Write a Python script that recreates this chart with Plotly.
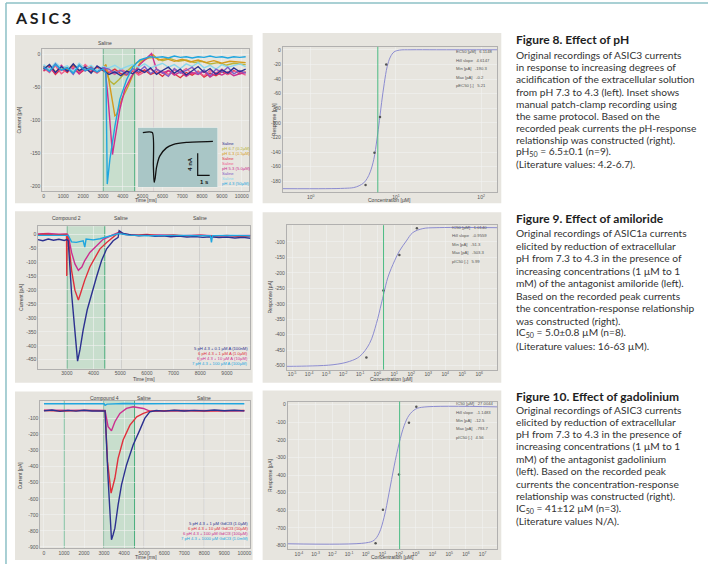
import plotly.graph_objects as go

W, H = 708, 564

# ---------------- DATA ----------------
# Fig 8 left: ASIC3 recordings (time ms, current pA)
a1_saline_navy = [(0,-22),(300,-15),(600,-27),(900,-18),(1200,-25),(1500,-14),(1800,-24),(2100,-19),(2400,-28),(2700,-17),(3000,-23),(3300,-30),(3600,-26),(3900,-32),(4200,-25),(4500,-29),(4800,-22),(5100,-27),(5400,-20),(5700,-30),(6000,-24),(6300,-19),(6600,-28),(6900,-22),(7200,-31),(7500,-24),(7800,-18),(8100,-27),(8400,-21),(8700,-30),(9000,-23),(9300,-28),(9600,-20),(9900,-26),(10200,-22)]
a1_saline_purple = [(0,-18),(300,-26),(600,-14),(900,-24),(1200,-20),(1500,-30),(1800,-16),(2100,-25),(2400,-19),(2700,-27),(3000,-20),(3300,-22),(3600,-28),(3900,-24),(4200,-30),(4500,-21),(4800,-26),(5100,-18),(5400,-29),(5700,-22),(6000,-27),(6300,-33),(6600,-21),(6900,-28),(7200,-24),(7500,-19),(7800,-29),(8100,-23),(8400,-32),(8700,-22),(9000,-27),(9300,-19),(9600,-29),(9900,-24),(10200,-28)]
a1_saline_red = [(0,-25),(300,-18),(600,-30),(900,-21),(1200,-27),(1500,-16),(1800,-29),(2100,-22),(2400,-26),(2700,-19),(3000,-24),(3300,-27),(3600,-22),(3900,-29),(4200,-31),(4500,-25),(4800,-28),(5100,-23),(5400,-30),(5700,-26),(6000,-33),(6300,-24),(6600,-29),(6900,-35),(7200,-27),(7500,-31),(7800,-25),(8100,-34),(8400,-28),(8700,-32),(9000,-26),(9300,-30),(9600,-24),(9900,-29),(10200,-26)]
a1_saline_pink = [(0,-20),(300,-27),(600,-17),(900,-29),(1200,-22),(1500,-19),(1800,-26),(2100,-15),(2400,-23),(2700,-28),(3000,-21),(3300,-25),(3600,-30),(3900,-22),(4200,-27),(4500,-24),(4800,-31),(5100,-26),(5400,-22),(5700,-28),(6000,-25),(6300,-30),(6600,-23),(6900,-27),(7200,-21),(7500,-29),(7800,-26),(8100,-32),(8400,-24),(8700,-28),(9000,-22),(9300,-30),(9600,-25),(9900,-27),(10200,-31)]
a1_saline_lightcyan = [(0,-15),(300,-22),(600,-12),(900,-20),(1200,-17),(1500,-25),(1800,-13),(2100,-21),(2400,-16),(2700,-24),(3000,-18),(3300,-20),(3600,-16),(3900,-22),(4200,-18),(4500,-15),(4800,-19),(5100,-14),(5400,-20),(5700,-16),(6000,-13),(6300,-19),(6600,-15),(6900,-21),(7200,-14),(7500,-18),(7800,-12),(8100,-20),(8400,-16),(8700,-22),(9000,-15),(9300,-19),(9600,-17),(9900,-14),(10200,-18)]
a1_ph67 = [(0,-17),(300,-24),(600,-14),(900,-22),(1200,-19),(1500,-27),(1800,-15),(2100,-23),(2400,-18),(2700,-26),(3000,-20),(3150,-25),(3350,-40),(3550,-45),(3800,-38),(4100,-28),(4400,-20),(4700,-12),(5000,-8),(5300,-5),(5600,-4),(6000,-9),(6400,-6),(6800,-10),(7200,-8),(7600,-12),(8000,-10),(8400,-14),(8800,-12),(9200,-16),(9600,-13),(10200,-15)]
a1_ph63 = [(0,-21),(300,-16),(600,-26),(900,-19),(1200,-23),(1500,-15),(1800,-25),(2100,-18),(2400,-22),(2700,-27),(3000,-20),(3150,-15),(3350,-48),(3600,-93),(3690,-91),(3940,-68),(4270,-48),(4520,-30),(4860,-13),(5200,-6),(5520,0),(5800,-8),(6200,-6),(6600,-10),(7000,-7),(7400,-11),(7800,-8),(8200,-12),(8600,-9),(9000,-13),(9400,-10),(10200,-12)]
a1_ph53 = [(0,-24),(300,-19),(600,-28),(900,-16),(1200,-25),(1500,-21),(1800,-29),(2100,-18),(2400,-23),(2700,-26),(3000,-22),(3100,-18),(3260,-68),(3430,-134),(3480,-152),(3600,-129),(3850,-83),(4100,-53),(4440,-33),(4860,-15),(5200,-5),(5450,2),(5700,-22),(6000,-28),(6300,-24),(6600,-31),(6900,-26),(7200,-33),(7500,-27),(7800,-30),(8100,-25),(8400,-34),(8700,-28),(9000,-31),(9300,-26),(9600,-32),(9900,-29),(10200,-27)]
a1_ph43 = [(0,-19),(300,-25),(600,-15),(900,-23),(1200,-20),(1500,-28),(1800,-16),(2100,-24),(2400,-21),(2700,-26),(3000,-22),(3150,-28),(3215,-197),(3350,-159),(3600,-109),(3850,-68),(4190,-38),(4520,-18),(4860,-8),(5370,-3),(5700,-4),(6000,-3),(6300,-5),(6600,-2),(6900,-4),(7200,-3),(7500,-5),(7800,-3),(8100,-4),(8400,-2),(8700,-4),(9000,-3),(9300,-5),(9600,-3),(9900,-4),(10200,-3)]
a1_legend = ["Saline", "pH 6.7 (0.2µM)", "pH 6.3 (0.5µM)", "Saline", "Saline",
             "pH 5.3 (5.0µM)", "Saline", "Saline", "pH 4.3 (50µM)"]
a1_xticks = [0, 1000, 2000, 3000, 4000, 5000, 6000, 7000, 8000, 9000, 10000]
a1_yticks = [0, -50, -100, -150, -200]

# inset: manual patch clamp (s, nA)
inset_trace = [(0.42,0.0),(1.21,0.0),(1.30,-6.0),(1.36,-9.1),(1.45,-8.3),(1.56,-6.4),(1.83,-4.3),(2.39,-2.8),(2.94,-2.2),(4.06,-1.8),(6.27,-1.6)]
inset_scale_nA = 4
inset_scale_s = 1

# Fig 8 right: pH-response (x, pA)
a2_points_x = [4.4, 5.6, 6.5, 7.7]
a2_points_y = [-185, -141, -92, -20]
a2_fit_x = [0.47, 1.5, 2.5, 3.2, 3.7, 4.2, 4.6, 5.0, 5.5, 6.0, 6.4, 6.8, 7.3, 7.9, 8.6, 9.5, 11, 15, 30, 155]
a2_fit_y = [-190, -190, -189.5, -188.5, -186, -182, -176, -167, -150, -122, -97, -72, -46, -23, -10, -3, -0.5, 0, 0, 0]
a2_ec50 = 6.13
a2_stats = ["EC50 [µM]   6.1148", "Hill slope   4.6147", "Min [pA]   -190.3", "Max [pA]   -0.2", "pEC50 [-]   5.21"]
a2_yticks = [0, -20, -40, -60, -80, -100, -120, -140, -160, -180]

# Fig 9 left: amiloride recordings
a3_c01 = [(1914,-20),(2100,-24),(2300,-18),(2500,-22),(2700,-19),(2900,-23),(3000,-20),(3050,-24),(3175,-213),(3300,-355),(3400,-455),(3490,-414),(3610,-343),(3760,-272),(3925,-213),(4110,-154),(4300,-95),(4490,-53),(4735,-24),(4920,-12),(4960,12),(5110,2),(5400,-3),(5700,-6),(6000,-4),(6300,-8),(6600,-6),(6900,-10),(7200,-7),(7500,-11),(7800,-9),(8100,-12),(8400,-10),(8700,-13),(9000,-11),(9300,-14),(9600,-12),(9890,-15)]
a3_c1 = [(1914,-2),(2200,0),(2500,-3),(2800,-1),(2985,-2),(2995,-150),(3005,-8),(3050,-10),(3175,-130),(3300,-201),(3430,-236),(3510,-213),(3670,-165),(3860,-118),(4050,-83),(4240,-53),(4490,-30),(4730,-12),(4950,6),(5100,0),(5500,-4),(6000,-2),(6500,-6),(7000,-3),(7500,-7),(8000,-4),(8500,-8),(9000,-5),(9500,-9),(9890,-7)]
a3_c10 = [(1914,0),(2300,2),(2700,-1),(3000,0),(3050,-5),(3175,-66),(3300,-107),(3430,-130),(3560,-118),(3670,-95),(3860,-66),(4110,-43),(4360,-19),(4610,-8),(4950,6),(5200,-2),(5800,-5),(6500,-3),(7200,-6),(8000,-4),(8800,-7),(9890,-5)]
a3_c100 = [(1914,-5),(2400,-4),(3000,-5),(3050,-5),(3175,-28),(3350,-30),(3610,-24),(3670,-47),(3720,-18),(3990,-21),(4240,-17),(4610,-8),(4950,2),(5300,-4),(6000,-6),(7000,-5),(8380,-6),(8420,-30),(8460,-6),(9200,-5),(9890,-6)]
a3_legend = ["5 pH 4.3 + 0.1 µM A (100nM)", "6 pH 4.3 + 1 µM A (1.0µM)",
             "6 pH 4.3 + 10 µM A (10µM)", "7 pH 4.3 + 100 µM A (100µM)"]
a3_xticks = [3000, 4000, 5000, 6000, 7000, 8000, 9000]
a3_yticks = [0, -50, -100, -150, -200, -250, -300, -350, -400, -450]

# Fig 9 right: amiloride concentration-response
a4_points_x = [0.23, 2.3, 20, 215]
a4_points_y = [-474, -257, -142, -56]
a4_fit_logx = [-5.33, -4.94, -2.60, -1.62, -1.03, -0.45, -0.05, 0.24, 0.38, 0.63, 1.02, 1.31, 1.71, 2.09, 2.68, 3.46, 7.06]
a4_fit_y = [-502, -502, -497, -486, -470, -428, -364, -300, -268, -214, -161, -129, -97, -70, -57, -54, -54]
a4_ic50 = 2.35
a4_stats = ["IC50 [µM]   1.0140", "Hill slope   -0.9559", "Min [pA]   -51.3", "Max [pA]   -503.3", "pIC50 [-]   5.99"]
a4_yticks = [-100, -150, -200, -250, -300, -350, -400, -450, -500]

# Fig 10 left: gadolinium recordings
a5_c1 = [(0,-52),(400,-47),(800,-55),(1200,-49),(1600,-54),(2000,-48),(2400,-53),(2800,-50),(3050,-52),(3200,-472),(3290,-720),(3370,-855),(3450,-824),(3540,-783),(3700,-638),(3870,-513),(4120,-389),(4450,-265),(4780,-172),(5030,-99),(5280,-58),(5600,-50),(6000,-54),(6500,-48),(7000,-53),(7500,-49),(8000,-52),(8500,-47),(9000,-51),(9500,-48),(10000,-52)]
a5_c10 = [(0,-50),(1000,-53),(2000,-49),(3050,-51),(3170,-367),(3350,-565),(3540,-472),(3700,-348),(3950,-234),(4290,-141),(4630,-89),(4960,-68),(5280,-54),(6500,-50),(8000,-53),(10000,-50)]
a5_c100 = [(0,-48),(1500,-51),(3050,-50),(3200,-150),(3370,-176),(3540,-120),(3790,-68),(4120,-37),(4450,-27),(4960,-37),(5280,-54),(7000,-50),(10000,-51)]
a5_c1000 = [(0,-8),(2000,-7),(3000,-8),(3050,-18),(3150,-10),(4000,-6),(5000,-8),(7000,-7),(10000,-8)]
a5_legend = ["5 pH 4.3 + 1 µM GdCl3 (1.0µM)", "6 pH 4.3 + 10 µM GdCl3 (10µM)",
             "6 pH 4.3 + 100 µM GdCl3 (100µM)", "7 pH 4.3 + 1000 µM GdCl3 (1.0mM)"]
a5_xticks = [0, 1000, 2000, 3000, 4000, 5000, 6000, 7000, 8000, 9000, 10000]
a5_yticks = [-100, -200, -300, -400, -500, -600, -700, -800, -900]

# Fig 10 right: gadolinium concentration-response
a6_points_logx = [0.59, 1.03, 1.99, 2.59, 3.03]
a6_points_y = [-787, -597, -397, -103, -13]
a6_fit_logx = [-4.68, 0.0, 0.5, 0.8, 1.1, 1.4, 1.7, 2.0, 2.3, 2.6, 3.0, 3.5, 7.88]
a6_fit_y = [-790, -785, -770, -730, -640, -500, -350, -220, -120, -60, -25, -14, -13]
a6_ic50_log = 2.03
a6_stats = ["IC50 [µM]   27.0044", "Hill slope   -1.1483", "Min [pA]   -12.5", "Max [pA]   -793.7", "pIC50 [-]   4.56"]
a6_yticks = [0, -100, -200, -300, -400, -500, -600, -700, -800]

# --------------- STYLE ----------------
PANEL = "#e7e5df"
GREEN = "#3aa873"
SHADE = "rgba(130,205,165,0.30)"
VLINE = "#b8b8b8"
FITC = "#8c8cd0"
TICKF = dict(family="Liberation Sans, Arial", size=5, color="#555")
NAVY, OLIVE, GOLD = "#2c3190", "#b8b43a", "#d49a1c"
RED, PINK, MAG = "#e0303c", "#ef5f8f", "#cc2f8f"
PURP, LCYAN, CYAN = "#7f5cc4", "#8ad8ec", "#1fa6df"


def px(x):
    return x / W


def py(y):
    return 1 - y / H


def unz(pairs):
    return [p[0] for p in pairs], [p[1] for p in pairs]


fig = go.Figure()

# axis domains in pixels: x0, x1, y0(top), y1(bottom)
dom = {
    1: (42, 250, 49, 192),
    2: (283, 498, 47, 193),
    3: (38, 251, 227, 370),
    4: (287, 498, 226, 371),
    5: (40, 251, 402, 550),
    6: (288, 498, 403, 551),
    7: (138, 218, 128, 188),
}

axis_specs = {
    1: dict(xr=[-80, 10400], yr=[-208, 9], xt=a1_xticks, yt=a1_yticks, logx=False),
    2: dict(xr=[-0.33, 2.19], yr=[-195, 4], xt=[1, 10, 100], yt=a2_yticks, logx=True,
            xtt=["10<sup>0</sup>", "10<sup>1</sup>", "10<sup>2</sup>"]),
    3: dict(xr=[1914, 9890], yr=[-482, 28], xt=a3_xticks, yt=a3_yticks, logx=False),
    4: dict(xr=[-5.33, 7.06], yr=[-513, -46], xt=[10 ** k for k in range(-5, 7)], yt=a4_yticks, logx=True,
            xtt=["10<sup>%d</sup>" % k for k in range(-5, 7)]),
    5: dict(xr=[-200, 10314], yr=[-907, 12], xt=a5_xticks, yt=a5_yticks, logx=False),
    6: dict(xr=[-4.68, 7.88], yr=[-820, 17], xt=[10 ** k for k in range(-4, 8)], yt=a6_yticks, logx=True,
            xtt=["10<sup>%d</sup>" % k for k in range(-4, 8)]),
}

layout_axes = {}
for i, (x0, x1, y0, y1) in dom.items():
    xn = "xaxis" if i == 1 else "xaxis%d" % i
    yn = "yaxis" if i == 1 else "yaxis%d" % i
    xa = dict(domain=[px(x0), px(x1)], anchor="y" if i == 1 else "y%d" % i)
    ya = dict(domain=[py(y1), py(y0)], anchor="x" if i == 1 else "x%d" % i)
    if i == 7:
        xa.update(range=[0, 6.67], visible=False, fixedrange=True)
        ya.update(range=[-10, 0.91], visible=False, fixedrange=True)
    else:
        s = axis_specs[i]
        common = dict(showline=True, mirror=True, linecolor="#9a9a9a", linewidth=0.7,
                      showgrid=True, gridcolor="#f1f1f1", gridwidth=0.6, zeroline=False,
                      ticks="", ticklen=0, ticklabelstandoff=0, tickfont=TICKF, fixedrange=True)
        xa.update(common)
        ya.update(common)
        if s["logx"]:
            xa.update(type="log", range=s["xr"], tickvals=s["xt"], ticktext=s["xtt"])
        else:
            xa.update(range=s["xr"], tickvals=s["xt"], ticktext=[str(v) for v in s["xt"]])
        ya.update(range=s["yr"], tickvals=s["yt"], ticktext=[str(v) for v in s["yt"]])
    layout_axes[xn] = xa
    layout_axes[yn] = ya


def add_line(pairs, color, ax, width=1.3):
    t, v = unz(pairs)
    xr = "x" if ax == 1 else "x%d" % ax
    yr = "y" if ax == 1 else "y%d" % ax
    fig.add_trace(go.Scatter(x=t, y=v, mode="lines", line=dict(color=color, width=width),
                             xaxis=xr, yaxis=yr, showlegend=False, hoverinfo="skip"))


# ----- Fig 8 left traces
for pairs, col in [(a1_saline_red, RED), (a1_saline_pink, PINK), (a1_ph67, OLIVE),
                   (a1_ph63, GOLD), (a1_ph53, MAG), (a1_saline_lightcyan, LCYAN),
                   (a1_saline_purple, PURP), (a1_saline_navy, NAVY), (a1_ph43, CYAN)]:
    add_line(pairs, col, 1, 1.4)

# ----- Fig 8 right
fig.add_trace(go.Scatter(x=a2_fit_x, y=a2_fit_y, mode="lines", line=dict(color=FITC, width=1, shape="spline"),
                         xaxis="x2", yaxis="y2", showlegend=False, hoverinfo="skip"))
fig.add_trace(go.Scatter(x=a2_points_x, y=a2_points_y, mode="markers", marker=dict(color="#555", size=2.5),
                         xaxis="x2", yaxis="y2", showlegend=False, hoverinfo="skip"))

# ----- Fig 9 left
for pairs, col in [(a3_c10, MAG), (a3_c1, RED), (a3_c01, NAVY), (a3_c100, CYAN)]:
    add_line(pairs, col, 3, 1.4)

# ----- Fig 9 right
fig.add_trace(go.Scatter(x=[10 ** v for v in a4_fit_logx], y=a4_fit_y, mode="lines",
                         line=dict(color=FITC, width=1, shape="spline"),
                         xaxis="x4", yaxis="y4", showlegend=False, hoverinfo="skip"))
fig.add_trace(go.Scatter(x=a4_points_x, y=a4_points_y, mode="markers", marker=dict(color="#555", size=2.5),
                         xaxis="x4", yaxis="y4", showlegend=False, hoverinfo="skip"))

# ----- Fig 10 left
for pairs, col in [(a5_c1000, CYAN), (a5_c100, MAG), (a5_c10, RED), (a5_c1, NAVY)]:
    add_line(pairs, col, 5, 1.4)

# ----- Fig 10 right
fig.add_trace(go.Scatter(x=[10 ** v for v in a6_fit_logx], y=a6_fit_y, mode="lines",
                         line=dict(color=FITC, width=1, shape="spline"),
                         xaxis="x6", yaxis="y6", showlegend=False, hoverinfo="skip"))
fig.add_trace(go.Scatter(x=[10 ** v for v in a6_points_logx], y=a6_points_y, mode="markers",
                         marker=dict(color="#555", size=2.5),
                         xaxis="x6", yaxis="y6", showlegend=False, hoverinfo="skip"))

# ----- Inset (drawn last, above Fig 8 traces)
ix0, ix1 = 0, 6.67
iy0, iy1 = -10, 0.91
fig.add_trace(go.Scatter(x=[ix0, ix1, ix1, ix0, ix0], y=[iy0, iy0, iy1, iy1, iy0], mode="lines",
                         fill="toself", fillcolor="#a9c6c6", line=dict(width=0),
                         xaxis="x7", yaxis="y7", showlegend=False, hoverinfo="skip"))
t, v = unz(inset_trace)
fig.add_trace(go.Scatter(x=t, y=v, mode="lines", line=dict(color="#111", width=1.3, shape="spline", smoothing=0.6),
                         xaxis="x7", yaxis="y7", showlegend=False, hoverinfo="skip"))
sb_x, sb_y = 5.0, -7.8
fig.add_trace(go.Scatter(x=[sb_x, sb_x, sb_x + inset_scale_s], y=[sb_y + inset_scale_nA, sb_y, sb_y],
                         mode="lines", line=dict(color="#111", width=1.2),
                         xaxis="x7", yaxis="y7", showlegend=False, hoverinfo="skip"))

# ---------------- SHAPES ----------------
shapes = []
# page frame
shapes.append(dict(type="line", xref="paper", yref="paper", x0=px(6), x1=px(6), y0=py(3), y1=py(566),
                   line=dict(color="#8cc0c6", width=1.5)))
shapes.append(dict(type="line", xref="paper", yref="paper", x0=px(6), x1=px(710), y0=py(3), y1=py(3),
                   line=dict(color="#8cc0c6", width=1.5)))
# gray panels
for (x0, y0, x1, y1) in [(15, 35, 253, 204), (263, 33, 502, 204), (15, 212, 253, 384),
                         (263, 213, 502, 384), (15, 393, 253, 562), (263, 392, 502, 562)]:
    shapes.append(dict(type="rect", xref="paper", yref="paper", x0=px(x0), x1=px(x1), y0=py(y1), y1=py(y0),
                       fillcolor=PANEL, line=dict(width=0), layer="below"))


def vshade(ax, a, b):
    shapes.append(dict(type="rect", xref="x" if ax == 1 else "x%d" % ax,
                       yref=("y" if ax == 1 else "y%d" % ax) + " domain",
                       x0=a, x1=b, y0=0, y1=1, fillcolor=SHADE, line=dict(width=0), layer="below"))


def vline(ax, a, color, w=0.9, layer="below"):
    shapes.append(dict(type="line", xref="x" if ax == 1 else "x%d" % ax,
                       yref=("y" if ax == 1 else "y%d" % ax) + " domain",
                       x0=a, x1=a, y0=0, y1=1, line=dict(color=color, width=w), layer=layer))


vshade(1, 3000, 4600); vline(1, 3000, "#2f8f5f"); vline(1, 4600, GREEN); vline(1, 5550, "#d8c8d0", 0.7)
vshade(3, 3000, 4420); vline(3, 3000, "#2f8f5f"); vline(3, 4420, GREEN); vline(3, 5030, VLINE); vline(3, 7990, VLINE)
vshade(5, 3000, 4520); vline(5, 1000, GREEN); vline(5, 3000, "#2f8f5f"); vline(5, 4520, GREEN)
vline(5, 5000, VLINE); vline(5, 8000, VLINE)
vline(2, a2_ec50, "#4cbb84", 1, "above"); vline(4, a4_ic50, "#4cbb84", 1, "above")
vline(6, 10 ** a6_ic50_log, "#4cbb84", 1, "above")

# ---------------- ANNOTATIONS ----------------
ann = []
SMALL = dict(family="Liberation Sans, Arial", size=5, color="#444")


def note(x, y, text, font=SMALL, xanchor="center", yanchor="middle", angle=0, xref="paper", yref="paper"):
    ann.append(dict(x=x, y=y, text=text, showarrow=False, font=font, xanchor=xanchor, yanchor=yanchor,
                    textangle=angle, xref=xref, yref=yref, borderpad=0))


sp = "\u2006"
note(px(14), py(18), "<b>" + sp.join("ASIC3") + "</b>",
     font=dict(family="Lato", size=16, color="#1e1e1e", weight=900), xanchor="left")

# axis titles
for (x, y) in [(146, 201), (144, 380), (146, 559)]:
    note(px(x), py(y), "Time [ms]")
for (x, y) in [(390, 201), (392, 380), (393, 559)]:
    note(px(x), py(y), "Concentration [µM]")
for (x, y) in [(19, 120), (21, 298), (20, 477)]:
    note(px(x), py(y), "Current [pA]", angle=-90)
for (x, y) in [(274, 120), (270, 298), (271, 477)]:
    note(px(x), py(y), "Response [pA]", angle=-90)

# protocol labels
note(3100, py(43), "Saline", xref="x")
for xv, lab in [(3000, "Compound 2"), (5030, "Saline"), (7990, "Saline")]:
    note(xv, py(219), lab, xref="x3")
for xv, lab in [(3000, "Compound 4"), (5000, "Saline"), (8000, "Saline")]:
    note(xv, py(399), lab, xref="x5")

# legends (colored text)
leg1_cols = [NAVY, OLIVE, GOLD, RED, PINK, MAG, PURP, LCYAN, CYAN]
for k, (lab, col) in enumerate(zip(a1_legend, leg1_cols)):
    note(px(221), py(144 + 5 * k), lab, font=dict(family="Liberation Sans, Arial", size=4.2, color=col),
         xanchor="left")
for k, (lab, col) in enumerate(zip(a3_legend, [NAVY, RED, MAG, CYAN])):
    note(px(249), py(350 + 5 * k), lab, font=dict(family="Liberation Sans, Arial", size=4.2, color=col),
         xanchor="right")
for k, (lab, col) in enumerate(zip(a5_legend, [NAVY, RED, MAG, CYAN])):
    note(px(249), py(525 + 5 * k), lab, font=dict(family="Liberation Sans, Arial", size=4.2, color=col),
         xanchor="right")

# inset labels
note(4.4, -5.8, "<b>4 nA</b>", font=dict(family="Liberation Sans, Arial", size=6, color="#111"),
     angle=-90, xref="x7", yref="y7")
note(5.55, -8.95, "<b>1 s</b>", font=dict(family="Liberation Sans, Arial", size=6, color="#111"),
     xref="x7", yref="y7")

# stats boxes
for stats, x0, ys in [(a2_stats, 456, 52), (a4_stats, 452, 228), (a6_stats, 456, 405)]:
    for k, s in enumerate(stats):
        note(px(x0), py(ys + 8.5 * k), s, font=dict(family="Liberation Sans, Arial", size=4.2, color="#555"),
             xanchor="left")

# right text column
BODY = dict(family="Lato", size=10.2, color="#333")
HEAD = dict(family="Lato", size=12, color="#1e1e1e", weight=900)
texts = [
    (40, "<b>Figure 8. Effect of pH</b>", HEAD),
    (55, "Original recordings of ASIC3 currents", BODY),
    (67, "in response to increasing degrees of", BODY),
    (79, "acidification of the extracellular solution", BODY),
    (92, "from pH 7.3 to 4.3 (left). Inset shows", BODY),
    (104, "manual patch-clamp recording using", BODY),
    (116, "the same protocol. Based on the", BODY),
    (128, "recorded peak currents the pH-response", BODY),
    (140, "relationship was constructed (right).", BODY),
    (153, "pH<sub>50</sub> = 6.5±0.1 (n=9).", BODY),
    (165, "(Literature values: 4.2-6.7).", BODY),
    (219, "<b>Figure 9. Effect of amiloride</b>", HEAD),
    (234, "Original recordings of ASIC1a currents", BODY),
    (247, "elicited by reduction of extracellular", BODY),
    (259, "pH from 7.3 to 4.3 in the presence of", BODY),
    (272, "increasing concentrations (1 µM to 1", BODY),
    (284, "mM) of the antagonist amiloride (left).", BODY),
    (297, "Based on the recorded peak currents", BODY),
    (309, "the concentration-response relationship", BODY),
    (322, "was constructed (right).", BODY),
    (334, "IC<sub>50</sub> = 5.0±0.8 µM (n=8).", BODY),
    (347, "(Literature values: 16-63 µM).", BODY),
    (398, "<b>Figure 10. Effect of gadolinium</b>", HEAD),
    (411, "Original recordings of ASIC3 currents", BODY),
    (423, "elicited by reduction of extracellular", BODY),
    (436, "pH from 7.3 to 4.3 in the presence of", BODY),
    (448, "increasing concentrations (1 µM to 1", BODY),
    (461, "mM) of the antagonist gadolinium", BODY),
    (473, "(left). Based on the recorded peak", BODY),
    (486, "currents the concentration-response", BODY),
    (498, "relationship was constructed (right).", BODY),
    (511, "IC<sub>50</sub> = 41±12 µM (n=3).", BODY),
    (523, "(Literature values N/A).", BODY),
]
for y, t_, f in texts:
    note(px(516), py(y), t_, font=f, xanchor="left")

fig.update_layout(
    width=W, height=H, autosize=False,
    margin=dict(l=0, r=0, t=0, b=0),
    paper_bgcolor="white", plot_bgcolor="white",
    showlegend=False,
    shapes=shapes, annotations=ann,
    **layout_axes,
)

fig.write_html("out.html", config={"displayModeBar": False, "staticPlot": True},
               post_script="document.body.style.margin='0px';document.body.style.overflow='hidden';")
